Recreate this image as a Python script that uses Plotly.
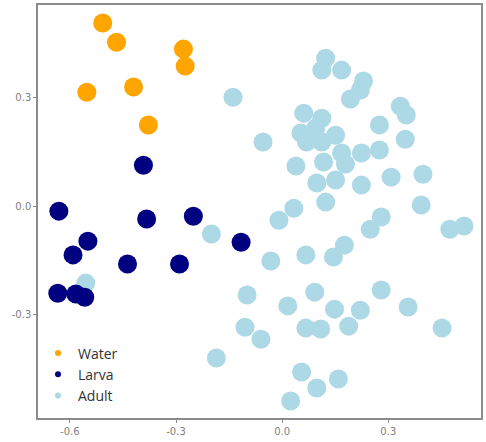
import plotly.graph_objects as go

water_x = [-0.507, -0.468, -0.279, -0.274, -0.552, -0.420, -0.378]
water_y = [0.506, 0.453, 0.434, 0.387, 0.315, 0.329, 0.224]

larva_x = [-0.392, -0.631, -0.383, -0.251, -0.116, -0.549, -0.591, -0.437, -0.290, -0.634, -0.583, -0.558]
larva_y = [0.113, -0.014, -0.036, -0.028, -0.100, -0.097, -0.135, -0.160, -0.160, -0.241, -0.243, -0.252]

adult_x = [-0.139, -0.200, -0.555, -0.099, -0.105, -0.186, 0.123, 0.112, 0.168, 0.230,
           0.221, 0.193, 0.061, 0.112, 0.334, 0.351, 0.275, 0.053, 0.095, 0.069,
           0.112, 0.151, 0.348, -0.054, 0.039, 0.117, 0.168, 0.179, 0.224, 0.275,
           0.098, 0.151, 0.224, 0.308, 0.398, 0.123, 0.393, 0.033, -0.009, 0.280,
           0.249, 0.474, 0.514, -0.032, 0.067, 0.145, 0.176, 0.016, 0.092, 0.148,
           0.221, 0.280, 0.356, -0.060, 0.067, 0.109, 0.188, 0.452, 0.055, 0.098,
           0.159, 0.024]
adult_y = [0.301, -0.077, -0.213, -0.246, -0.335, -0.420, 0.409, 0.376, 0.376, 0.346,
           0.321, 0.296, 0.257, 0.243, 0.276, 0.252, 0.224, 0.202, 0.216, 0.177,
           0.177, 0.196, 0.185, 0.177, 0.111, 0.122, 0.147, 0.116, 0.147, 0.155,
           0.064, 0.072, 0.058, 0.080, 0.088, 0.011, 0.003, -0.006, -0.039, -0.030,
           -0.064, -0.064, -0.055, -0.152, -0.135, -0.141, -0.108, -0.276, -0.238, -0.285,
           -0.288, -0.232, -0.279, -0.368, -0.337, -0.340, -0.332, -0.337, -0.459, -0.503,
           -0.478, -0.539]

x_ticks = [-0.6, -0.3, 0.0, 0.3]
y_ticks = [-0.3, 0.0, 0.3]

groups = [
    ("Water", water_x, water_y, "#FFA500"),
    ("Larva", larva_x, larva_y, "#000080"),
    ("Adult", adult_x, adult_y, "#ADD8E6"),
]

fig = go.Figure()
# draw order: adult underneath, then larva, then water
for name, xs, ys, col in reversed(groups):
    fig.add_trace(go.Scatter(x=xs, y=ys, mode="markers", name=name,
                             marker=dict(color=col, size=19, line=dict(width=0)),
                             showlegend=False))
for name, xs, ys, col in groups:
    fig.add_trace(go.Scatter(x=[None], y=[None], mode="markers", name=name,
                             marker=dict(color=col, size=6), showlegend=True))

axis_common = dict(showgrid=False, zeroline=False, showline=True, linecolor="#8c8c8c",
                   linewidth=1.5, mirror=True, ticks="outside", ticklen=3, tickcolor="#8c8c8c",
                   tickfont=dict(family="DejaVu Sans", size=10, color="#7f7f7f"))

fig.update_layout(
    width=486, height=442,
    margin=dict(l=38, r=3, t=4, b=24),
    paper_bgcolor="white", plot_bgcolor="white",
    xaxis=dict(range=[-0.690, 0.562], tickvals=x_ticks, ticktext=["-0.6", "-0.3", "0.0", "0.3"], **axis_common),
    yaxis=dict(range=[-0.586, 0.556], tickvals=y_ticks, ticktext=["-0.3", "0.0", "0.3"], **axis_common),
    legend=dict(x=0.0, y=0.195, xanchor="left", yanchor="top", bgcolor="rgba(0,0,0,0)",
                font=dict(family="Open Sans", size=14, color="#333333"),
                itemwidth=30, tracegroupgap=0),
)

fig.write_html("out.html", config={"displayModeBar": False})
with open("out.html", "r", encoding="utf-8") as f:
    html = f.read()
html = html.replace("<head>", "<head><style>html,body{margin:0;padding:0;overflow:hidden;}</style>", 1)
with open("out.html", "w", encoding="utf-8") as f:
    f.write(html)
